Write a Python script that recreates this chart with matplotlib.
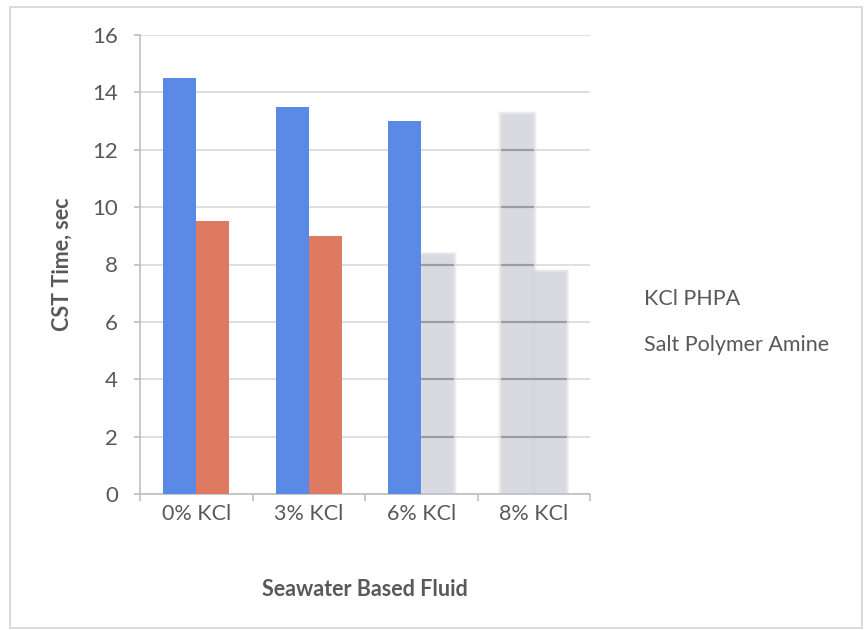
import matplotlib
matplotlib.use("Agg")
import matplotlib.pyplot as plt
from matplotlib.patches import Rectangle
import numpy as np

# Data
categories = ["0% KCl", "3% KCl", "6% KCl", "8% KCl"]
series_names = ["KCl PHPA", "Salt Polymer Amine"]
kcl_phpa = [14.5, 13.5, 13.0, 13.2]
salt_polymer_amine = [9.5, 9.0, 8.3, 7.7]
y_ticks = [0, 2, 4, 6, 8, 10, 12, 14, 16]

# Bars printed washed-out (True = faded grey)
faded_phpa = [False, False, False, True]
faded_spa = [False, False, True, True]

BLUE = "#5b8ae6"
RED = "#de7a62"
GREY = "#d4d4dc"
TEXT = "#595959"
AXIS = "#bfbfbf"
GRID = "#d9d9d9"

plt.rcParams["font.family"] = ["Lato", "DejaVu Sans"]

fig = plt.figure(figsize=(8.64, 6.30), dpi=100)
W, H = 864, 630
ax = fig.add_axes([140 / W, 1 - 494 / H, 450 / W, 459 / H])

# outer chart frame
fig.patches.append(Rectangle((10 / W, 1 - 628 / H), 852 / W, 621 / H,
                             transform=fig.transFigure, fill=False,
                             edgecolor="#d4d4d4", lw=1.2))

x = np.arange(len(categories))
bw = 0.292


def soft_bar(xc, h):
    # blurred, faded bar drawn as many thin translucent layers
    n = 10
    for k in range(n, 0, -1):
        grow = 0.09 * k / n
        ax.bar(xc, h + grow * 1.5, width=bw + grow - 0.04, color=GREY,
               alpha=0.16, lw=0, zorder=2)
    for t in y_ticks[1:]:
        if t < h:
            ax.hlines(t, xc - bw / 2, xc + bw / 2,
                      color="#8e8e96", lw=1.6, alpha=0.8, zorder=3)


blue_handle = None
red_handle = None
for i in range(len(categories)):
    xb = x[i] - bw / 2
    xr = x[i] + bw / 2
    if faded_phpa[i]:
        soft_bar(xb, kcl_phpa[i])
    else:
        blue_handle = ax.bar(xb, kcl_phpa[i], width=bw, color=BLUE, lw=0, zorder=4)
    if faded_spa[i]:
        soft_bar(xr, salt_polymer_amine[i])
    else:
        red_handle = ax.bar(xr, salt_polymer_amine[i], width=bw, color=RED, lw=0, zorder=4)

ax.set_xlim(-0.5, len(categories) - 0.5)
ax.set_ylim(0, 16)
ax.set_yticks(y_ticks)
ax.yaxis.grid(True, color=GRID, lw=1.2, zorder=1)
ax.set_axisbelow(True)

ax.set_xticks(x)
ax.set_xticklabels(categories)
ax.set_xticks(np.arange(len(categories) + 1) - 0.5, minor=True)
ax.tick_params(axis="x", which="major", length=0, pad=7, labelsize=15.5, labelcolor=TEXT)
ax.tick_params(axis="x", which="minor", length=5, color=AXIS, width=1.2)
ax.tick_params(axis="y", length=4, color=AXIS, width=1.2, pad=12, labelsize=16, labelcolor=TEXT)

for s in ["top", "right"]:
    ax.spines[s].set_visible(False)
for s in ["left", "bottom"]:
    ax.spines[s].set_color(AXIS)
    ax.spines[s].set_linewidth(1.2)

ax.set_ylabel("CST Time, sec", fontsize=15.5, fontweight="bold", color=TEXT)
ax.yaxis.set_label_coords(-0.173, 0.5)
ax.yaxis.label.set_va("center")
ax.set_xlabel("Seawater Based Fluid", fontsize=15.5, fontweight="bold", color=TEXT)
ax.xaxis.set_label_coords(0.5, -0.207)
ax.xaxis.label.set_va("center")

leg = ax.legend([blue_handle, red_handle], series_names, loc="center left",
                bbox_to_anchor=(625 / W, 1 - 322 / H), bbox_transform=fig.transFigure,
                frameon=False, fontsize=15.5, labelcolor=TEXT,
                handlelength=0, handletextpad=0, labelspacing=1.25)
for h in leg.legend_handles:
    h.set_visible(False)

fig.savefig("out.png", dpi=100, facecolor="white")
